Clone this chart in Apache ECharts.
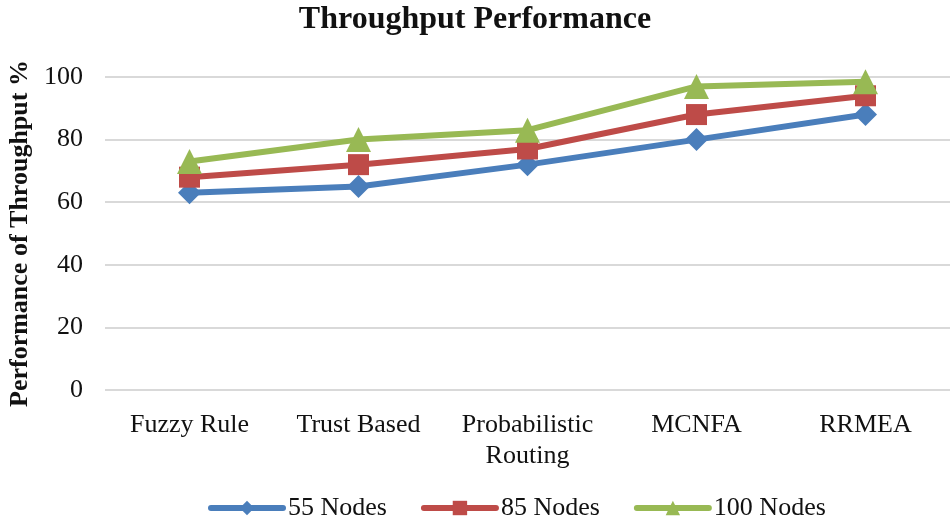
<!DOCTYPE html>
<html><head><meta charset="utf-8">
<script src="https://cdn.jsdelivr.net/npm/echarts@6/dist/echarts.min.js"></script>
<style>html,body{margin:0;padding:0;background:#fff}#c{width:950px;height:520px}</style>
</head><body><div id="c"></div>
<script>
const categories = ['Fuzzy Rule', 'Trust Based', 'Probabilistic\nRouting', 'MCNFA', 'RRMEA'];
const nodes55 = [63, 65, 72, 80, 88];
const nodes85 = [68, 72, 77, 88, 94];
const nodes100 = [73, 80, 83, 97, 98.5];
const yTicks = [0, 20, 40, 60, 80, 100];

const font = 'Liberation Serif, Times New Roman, serif';
const chart = echarts.init(document.getElementById('c'));
const mk = (name, data, color, symbol, size) => ({
  name, type: 'line', data, symbol, symbolSize: size,
  lineStyle: { width: 6, color, cap: 'round', join: 'round' }, itemStyle: { color },
  emphasis: { disabled: true }
});
chart.setOption({
  animation: false,
  title: { text: 'Throughput Performance', left: 'center', top: -1,
    textStyle: { fontFamily: font, fontWeight: 'bold', fontSize: 32, color: '#111' } },
  grid: { left: 105, right: 0, top: 77, bottom: 130, containLabel: false, outerBoundsMode: 'none' },
  legend: { top: 490, left: 203, itemWidth: 72, itemHeight: 18, itemGap: 34,
    lineStyle: { width: 6, cap: 'round' },
    textStyle: { fontFamily: font, fontSize: 26, color: '#111', padding: [0, 0, 0, 0] } },
  xAxis: { type: 'category', data: categories, boundaryGap: true,
    axisLine: { show: false }, axisTick: { show: false },
    axisLabel: { interval: 0, fontFamily: font, fontSize: 26, color: '#111', margin: 20, lineHeight: 31 } },
  yAxis: { type: 'value', min: yTicks[0], max: yTicks[yTicks.length - 1], interval: 20,
    name: 'Performance of Throughput %', nameLocation: 'middle', nameGap: 72, nameRotate: 90,
    nameTextStyle: { fontFamily: font, fontWeight: 'bold', fontSize: 26, color: '#111', padding: [0, 0, 0, 0] },
    axisLine: { show: false }, axisTick: { show: false },
    axisLabel: { fontFamily: font, fontSize: 26, color: '#111', margin: 22 },
    splitLine: { lineStyle: { color: '#d9d9d9', width: 2 } } },
  series: [
    mk('55 Nodes', nodes55, '#4a7ebb', 'diamond', 23),
    mk('85 Nodes', nodes85, '#be4b48', 'rect', 21),
    mk('100 Nodes', nodes100, '#98b954', 'triangle', 25)
  ]
});
</script></body></html>
